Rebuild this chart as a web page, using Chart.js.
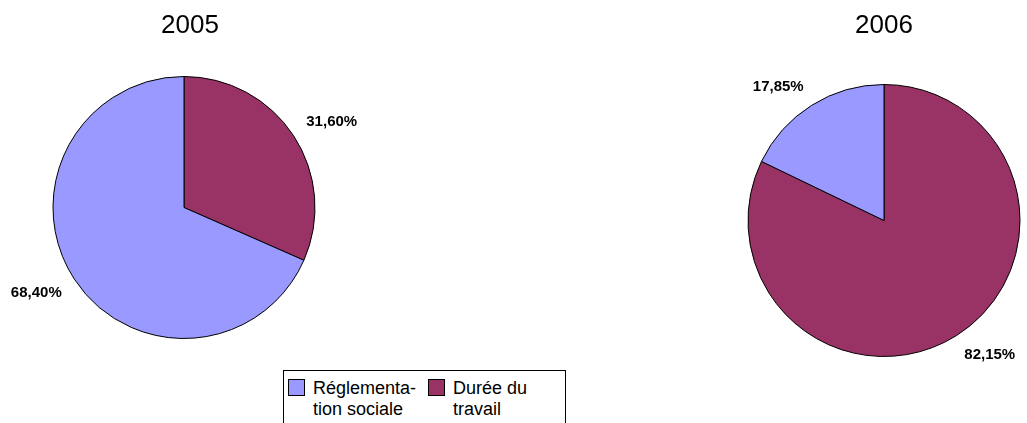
<!DOCTYPE html>
<html lang="fr">
<head>
<meta charset="utf-8">
<title>Réglementation sociale / Durée du travail</title>
<script src="https://cdn.jsdelivr.net/npm/chart.js@4.4.1/dist/chart.umd.min.js"></script>
<style>
  html, body { margin: 0; padding: 0; background: #fff; }
  body {
    position: relative; width: 1027px; height: 423px; overflow: hidden;
    font-family: "Liberation Sans", Arial, sans-serif; color: #000;
  }
  .pane { position: absolute; top: 0; height: 423px; }
  .title {
    position: absolute; top: 11px; width: 120px; text-align: center;
    font-size: 26px; line-height: 1;
  }
  #legend {
    position: absolute; left: 283px; top: 370px; width: 283px; height: 70px;
    border: 1px solid #000; box-sizing: border-box; background: #fff;
  }
  .item { position: absolute; top: 7px; }
  .swatch {
    position: absolute; left: 0; top: 1px; width: 17px; height: 17px;
    border: 1px solid #000; box-sizing: border-box;
  }
  .text {
    position: absolute; left: 25px; top: 0; width: 108px;
    font-size: 18px; line-height: 21px; hyphens: manual;
  }
</style>
</head>
<body>

<div class="pane" style="left:0;width:520px"><canvas id="pie2005" width="520" height="423"></canvas></div>
<div class="pane" style="left:520px;width:507px"><canvas id="pie2006" width="507" height="423"></canvas></div>
<div class="title" id="t2005" style="left:130px"></div>
<div class="title" id="t2006" style="left:824px"></div>
<div id="legend"></div>

<script>
// ─── Data ────────────────────────────────────────────────────────────────────

const categories   = ["Réglementation sociale", "Durée du travail"];
const legendLabels = ["Réglementa\u00ADtion sociale", "Durée du travail"];
const years        = ["2005", "2006"];
const share2005    = [68.40, 31.60];
const share2006    = [17.85, 82.15];
const colors       = ["#9999FF", "#993366"];

// ─── Helpers ─────────────────────────────────────────────────────────────────

function fmtPct(v) {
  return v.toFixed(2).replace(".", ",") + "%";
}

// percentage labels just outside each slice
const pctLabels = {
  id: "pctLabels",
  afterDatasetsDraw(chart) {
    const ctx = chart.ctx;
    const meta = chart.getDatasetMeta(0);
    const values = chart.data.datasets[0].data;
    ctx.save();
    ctx.font = 'bold 15px "Liberation Sans", Arial, sans-serif';
    ctx.fillStyle = "#000";
    ctx.textAlign = "center";
    ctx.textBaseline = "middle";
    meta.data.forEach((arc, i) => {
      const p = arc.getProps(["x", "y", "startAngle", "endAngle", "outerRadius"], true);
      const mid = (p.startAngle + p.endAngle) / 2;
      const dx = Math.cos(mid), dy = Math.sin(mid);
      const text = fmtPct(values[i]);
      const w = ctx.measureText(text).width;
      const h = 12;
      const d = p.outerRadius + 15;
      ctx.fillText(text,
        p.x + dx * d + Math.sign(dx) * w / 2,
        p.y + dy * d + Math.sign(dy) * h / 2);
    });
    ctx.restore();
  }
};

// slices are drawn clockwise from 12 o'clock, "Durée du travail" first
function makePie(id, values, radius, padding) {
  const order = [1, 0];
  new Chart(document.getElementById(id), {
    type: "pie",
    data: {
      labels: order.map(i => categories[i]),
      datasets: [{
        data: order.map(i => values[i]),
        backgroundColor: order.map(i => colors[i]),
        borderColor: "#000",
        borderWidth: 1,
        hoverBorderWidth: 1,
        offset: 0,
        hoverOffset: 0,
      }]
    },
    options: {
      responsive: false,
      animation: false,
      devicePixelRatio: 1,
      radius: radius,
      layout: { padding: padding },
      plugins: {
        legend: { display: false },
        title: { display: false },
        tooltip: { enabled: false }
      }
    },
    plugins: [pctLabels]
  });
}

makePie("pie2005", share2005, 131, { left: 0, right: 152, top: 0, bottom: 8 });
makePie("pie2006", share2006, 136, { left: 221, right: 0, top: 18, bottom: 0 });

document.getElementById("t2005").textContent = years[0];
document.getElementById("t2006").textContent = years[1];

// ─── Legend ──────────────────────────────────────────────────────────────────

const legend = document.getElementById("legend");
const itemLeft = [4, 144];
categories.forEach((c, i) => {
  const item = document.createElement("div");
  item.className = "item";
  item.style.left = itemLeft[i] + "px";
  item.title = c;
  item.innerHTML = '<div class="swatch" style="background:' + colors[i] + '"></div>' +
                   '<div class="text">' + legendLabels[i] + '</div>';
  legend.appendChild(item);
});
</script>
</body>
</html>
